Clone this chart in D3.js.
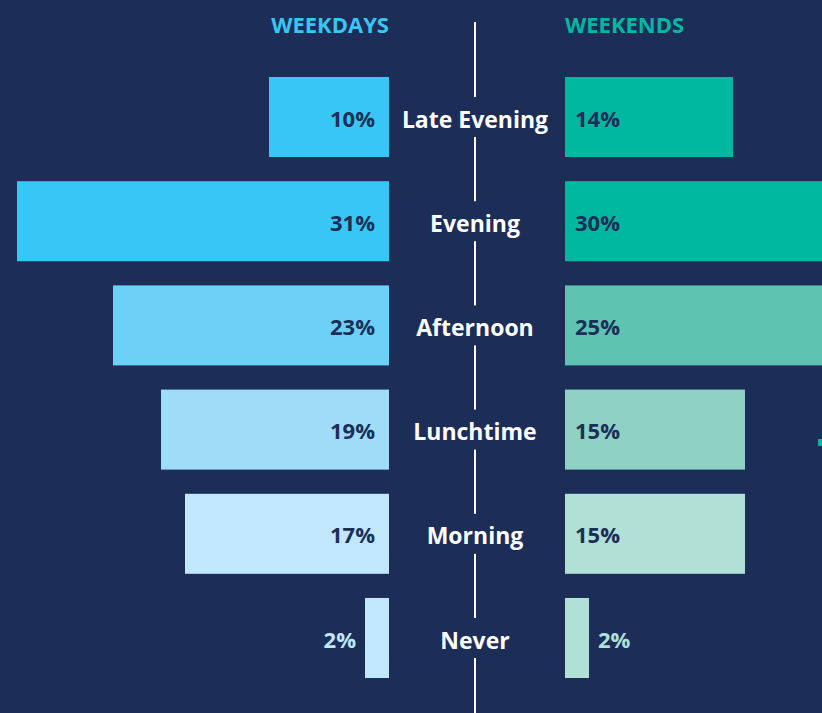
<!DOCTYPE html>
<html>
<head>
<meta charset="utf-8">
<script src="https://cdn.jsdelivr.net/npm/d3@7/dist/d3.min.js"></script>
<style>
  html, body { margin: 0; padding: 0; background: #1c2e58; }
  svg { display: block; }
</style>
</head>
<body>
<svg id="chart" width="822" height="713"></svg>
<script>
// Share of people by time of day, weekdays vs weekends (%)
const slots = ["Late Evening", "Evening", "Afternoon", "Lunchtime", "Morning", "Never"];
const weekdays = [10, 31, 23, 19, 17, 2];
const weekends = [14, 30, 25, 15, 15, 2];
const weekdayColors = ["#38c6f4", "#38c6f4", "#6dd0f6", "#9edcf8", "#c0e7fb", "#c0e7fb"];
const weekendColors = ["#00b8a0", "#00b8a0", "#5ec3b0", "#8fd1c4", "#b1e0d7", "#b1e0d7"];
const headers = ["WEEKDAYS", "WEEKENDS"];

const W = 822, H = 713;
const bg = "#1c2e58";
const leftEdge = 389, rightEdge = 565, mid = 475;
const font = "'Open Sans', sans-serif";

const svg = d3.select("#chart");
svg.append("rect").attr("width", W).attr("height", H).attr("fill", bg);

const y = d3.scaleBand().domain(slots).range([77, 678]).paddingInner(0.232).paddingOuter(0);
const len = d3.scaleLinear().domain([0, 31]).range([0, 372]);

// centre divider
svg.append("line")
  .attr("x1", mid).attr("x2", mid).attr("y1", 22).attr("y2", H)
  .attr("stroke", "#ffffff").attr("stroke-width", 2);

// headers
svg.append("text").text(headers[0])
  .attr("x", leftEdge).attr("y", 33).attr("text-anchor", "end")
  .attr("font-family", font).attr("font-weight", 700)
  .attr("font-size", 22).attr("fill", "#38c6f4");
svg.append("text").text(headers[1])
  .attr("x", rightEdge).attr("y", 33).attr("text-anchor", "start")
  .attr("font-family", font).attr("font-weight", 700)
  .attr("font-size", 22).attr("fill", "#00b8a0");

const rows = svg.selectAll("g.row").data(slots).join("g").attr("class", "row");
const cy = d => y(d) + y.bandwidth() / 2;

// weekday bars grow leftwards
rows.append("rect")
  .attr("x", (d, i) => leftEdge - len(weekdays[i]))
  .attr("y", d => y(d))
  .attr("width", (d, i) => len(weekdays[i]))
  .attr("height", y.bandwidth())
  .attr("fill", (d, i) => weekdayColors[i]);

// weekend bars grow rightwards
rows.append("rect")
  .attr("x", rightEdge)
  .attr("y", d => y(d))
  .attr("width", (d, i) => len(weekends[i]))
  .attr("height", y.bandwidth())
  .attr("fill", (d, i) => weekendColors[i]);

// category label with a background plate that interrupts the divider
rows.append("rect")
  .attr("x", leftEdge + 1).attr("width", rightEdge - leftEdge - 2)
  .attr("y", d => cy(d) - 20).attr("height", 40)
  .attr("fill", bg);
rows.append("text").text(d => d)
  .attr("x", mid).attr("y", cy)
  .attr("dy", "0.46em").attr("text-anchor", "middle")
  .attr("font-family", font).attr("font-weight", 700)
  .attr("font-size", 23).attr("fill", "#ffffff");

const small = v => len(v) < 50;

// weekday values
rows.append("text").text((d, i) => weekdays[i] + "%")
  .attr("x", (d, i) => small(weekdays[i]) ? leftEdge - len(weekdays[i]) - 9 : leftEdge - 14)
  .attr("y", cy)
  .attr("dy", "0.44em").attr("text-anchor", "end")
  .attr("font-family", font).attr("font-weight", 700)
  .attr("font-size", 22)
  .attr("fill", (d, i) => small(weekdays[i]) ? weekdayColors[i] : bg);

// weekend values
rows.append("text").text((d, i) => weekends[i] + "%")
  .attr("x", (d, i) => small(weekends[i]) ? rightEdge + len(weekends[i]) + 9 : rightEdge + 10)
  .attr("y", cy)
  .attr("dy", "0.44em").attr("text-anchor", "start")
  .attr("font-family", font).attr("font-weight", 700)
  .attr("font-size", 22)
  .attr("fill", (d, i) => small(weekends[i]) ? weekendColors[i] : bg);

// small accent mark at the right edge
svg.append("rect").attr("x", 818).attr("y", 439).attr("width", 4).attr("height", 7).attr("fill", "#00b8a0");
</script>
</body>
</html>
